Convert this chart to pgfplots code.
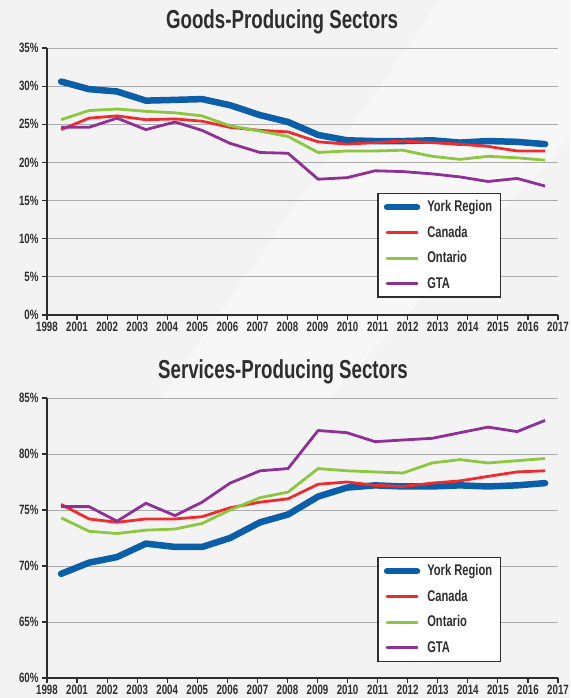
\documentclass[border=0pt]{standalone}
\usepackage{fontspec}
\setmainfont{Liberation Sans}[FakeStretch=0.8]
\newfontfamily\narrowfont{Liberation Sans}[FakeStretch=0.72]
\usepackage{pgfplots}
\usepackage{pgfplotstable}
\pgfplotsset{compat=1.18}
\definecolor{bg}{HTML}{F3F3F3}
\definecolor{bglight}{HTML}{F7F7F7}
\definecolor{york}{HTML}{0B5EA8}
\definecolor{can}{HTML}{EE2B2F}
\definecolor{ont}{HTML}{8DC63F}
\definecolor{gta}{HTML}{8E3095}
\definecolor{txt}{HTML}{2E2E2E}
\definecolor{gridc}{HTML}{ABABAB}

\pgfplotstableread{
x     york  canada ontario gta
0.47  30.6  24.3   25.6    24.6
1.40  29.6  25.8   26.8    24.6
2.33  29.3  26.1   27.0    25.8
3.29  28.1  25.6   26.7    24.3
4.26  28.2  25.7   26.5    25.3
5.16  28.3  25.4   26.1    24.2
6.09  27.5  24.6   24.8    22.5
7.09  26.2  24.2   24.1    21.3
8.02  25.3  24.0   23.4    21.2
9.02  23.6  22.7   21.3    17.8
9.98  22.9  22.4   21.5    18.0
10.91 22.8  22.6   21.5    18.9
11.84 22.8  22.8   21.6    18.8
12.81 22.9  22.6   20.8    18.5
13.74 22.6  22.4   20.4    18.1
14.67 22.8  22.1   20.8    17.5
15.64 22.7  21.5   20.6    17.9
16.57 22.4  21.5   20.3    16.9
}\goods

\pgfplotstableread{
x     york  canada ontario gta
0.47  69.3  75.5   74.3    75.3
1.40  70.3  74.2   73.1    75.3
2.33  70.8  73.9   72.9    74.0
3.29  72.0  74.2   73.2    75.6
4.26  71.7  74.2   73.3    74.5
5.16  71.7  74.4   73.8    75.7
6.09  72.5  75.2   75.0    77.4
7.09  73.9  75.7   76.1    78.5
8.02  74.6  76.0   76.6    78.7
9.02  76.2  77.3   78.7    82.1
9.98  77.0  77.5   78.5    81.9
10.91 77.2  77.2   78.4    81.1
11.84 77.1  77.1   78.3    81.25
12.81 77.1  77.4   79.2    81.4
13.74 77.2  77.6   79.5    81.9
14.67 77.1  78.0   79.2    82.4
15.64 77.2  78.4   79.4    82.0
16.57 77.4  78.5   79.6    83.0
}\services

\pgfplotsset{
  mystyle/.style={
    scale only axis, width=511pt,
    xmin=0, xmax=17,
    axis x line*=bottom, axis y line*=left,
    axis line style={-, txt, line width=1.4pt},
    xtick={0,...,17},
    xticklabels={1998,2001,2002,2003,2004,2005,2006,2007,2008,2009,2010,2011,2012,2013,2014,2015,2016,2017},
    tick align=outside, major tick length=5pt,
    tick style={txt, line width=1.2pt},
    ymajorgrids, grid style={gridc, line width=0.9pt},
    ticklabel style={font=\narrowfont\bfseries\fontsize{13.5}{14}\selectfont, text=txt},
    xticklabel style={yshift=1pt},
    legend cell align=left,
    legend style={draw=txt, line width=1.4pt, fill=white, anchor=north west,
      font=\narrowfont\bfseries\fontsize{15.5}{17}\selectfont, text=txt,
      inner xsep=6pt, inner ysep=5pt, row sep=8.5pt, column sep=5pt,
      nodes={text height=11pt, text depth=2pt}},
    legend image code/.code={\draw[##1, line cap=round] (0pt,0pt) -- (30pt,0pt);},
  },
  yorkl/.style={york, line width=6.5pt, line cap=round, line join=round},
  canl/.style={can, line width=2.8pt, line join=round},
  ontl/.style={ont, line width=2.8pt, line join=round},
  gtal/.style={gta, line width=2.8pt, line join=round},
}

\begin{document}
\begin{tikzpicture}
\fill[bg] (0pt,0pt) rectangle (570pt,698pt);
\useasboundingbox (0pt,0pt) rectangle (570pt,698pt);
\fill[bglight] (440pt,698pt) -- (570pt,698pt) -- (570pt,560pt) -- (330pt,300pt) -- (160pt,300pt) -- cycle;
\node[font=\narrowfont\bfseries\fontsize{26}{28}\selectfont, text=txt] at (282pt,676pt) {Goods-Producing Sectors};
\node[font=\narrowfont\bfseries\fontsize{26}{28}\selectfont, text=txt] at (283pt,326pt) {Services-Producing Sectors};

\begin{scope}[shift={(47pt,383pt)}]
\begin{axis}[mystyle, anchor=south west, height=267pt,
  ymin=0, ymax=35, ytick={0,5,...,35},
  yticklabels={0\%,5\%,10\%,15\%,20\%,25\%,30\%,35\%},
  legend style={at={(0.646,0.457)}}]
\addplot[yorkl] table[x=x, y=york] {\goods};
\addplot[canl] table[x=x, y=canada] {\goods};
\addplot[ontl] table[x=x, y=ontario] {\goods};
\addplot[gtal] table[x=x, y=gta] {\goods};
\legend{York Region, Canada, Ontario, GTA}
\end{axis}
\end{scope}

\begin{scope}[shift={(47pt,20pt)}]
\begin{axis}[mystyle, anchor=south west, height=280pt,
  ymin=60, ymax=85, ytick={60,65,...,85},
  yticklabels={60\%,65\%,70\%,75\%,80\%,85\%},
  legend style={at={(0.646,0.432)}}]
\addplot[yorkl] table[x=x, y=york] {\services};
\addplot[canl] table[x=x, y=canada] {\services};
\addplot[ontl] table[x=x, y=ontario] {\services};
\addplot[gtal] table[x=x, y=gta] {\services};
\legend{York Region, Canada, Ontario, GTA}
\end{axis}
\end{scope}
\end{tikzpicture}
\end{document}
